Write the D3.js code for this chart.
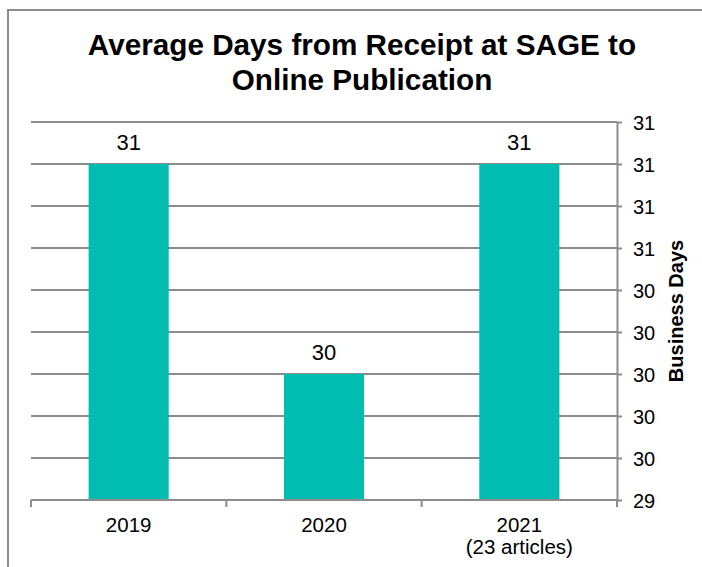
<!DOCTYPE html>
<html lang="en">
<head>
<meta charset="UTF-8">
<title>Average Days from Receipt at SAGE to Online Publication</title>
<script src="https://d3js.org/d3.v7.min.js"></script>
<style>
    body { margin: 0; background: #fff; font-family: "Liberation Sans", Arial, sans-serif; }
    .grid line { stroke: #8c8c8c; stroke-width: 2; }
    .axis path, .axis line { stroke: #8c8c8c; stroke-width: 2; }
</style>
</head>
<body>
<div id="chart"></div>
<script>
    // Data
    const years = ["2019", "2020", "2021"];
    const subLabels = ["", "", "(23 articles)"];
    const days = [31.0, 30.0, 31.0];
    const yTicks = [29.4, 29.6, 29.8, 30.0, 30.2, 30.4, 30.6, 30.8, 31.0, 31.2];

    const width = 702, height = 567;
    const plot = { left: 31, right: 617, top: 122, bottom: 500 };

    const svg = d3.select("#chart").append("svg")
        .attr("width", width)
        .attr("height", height);

    // outer frame (left and top edges visible)
    svg.append("path")
        .attr("d", `M8,${height} V10 H${width}`)
        .attr("fill", "none")
        .attr("stroke", "#8c8c8c")
        .attr("stroke-width", 2);

    // Scales
    const slot = d3.scaleBand()
        .domain(years)
        .range([plot.left, plot.right])
        .padding(0);

    const barW = slot.bandwidth() * 0.41;

    const y = d3.scaleLinear()
        .domain([29.4, 31.2])
        .range([plot.bottom, plot.top]);

    // Gridlines
    svg.append("g")
        .attr("class", "grid")
        .selectAll("line")
        .data(yTicks)
        .enter()
        .append("line")
        .attr("x1", plot.left)
        .attr("x2", plot.right)
        .attr("y1", d => y(d))
        .attr("y2", d => y(d));

    // Bars
    svg.selectAll(".bar")
        .data(days)
        .enter()
        .append("rect")
        .attr("class", "bar")
        .attr("x", (d, i) => slot(years[i]) + (slot.bandwidth() - barW) / 2)
        .attr("width", barW)
        .attr("y", d => y(d))
        .attr("height", d => plot.bottom - y(d))
        .attr("fill", "#00bcb1");

    // Value labels
    svg.selectAll(".value")
        .data(days)
        .enter()
        .append("text")
        .attr("class", "value")
        .attr("x", (d, i) => slot(years[i]) + slot.bandwidth() / 2)
        .attr("y", d => y(d) - 14)
        .attr("text-anchor", "middle")
        .style("font-size", "22px")
        .text(d3.format(".0f"));

    // Right axis
    const yAxis = svg.append("g")
        .attr("class", "axis")
        .attr("transform", `translate(${plot.right},0)`)
        .call(d3.axisRight(y).tickValues(yTicks).tickFormat(d3.format(".0f")).tickSize(5).tickSizeOuter(0));
    yAxis.selectAll("text")
        .attr("x", 16)
        .attr("dy", "0.36em")
        .style("font-size", "20px")
        .style("font-family", "'Liberation Sans', Arial, sans-serif")
        .attr("fill", "#000");

    svg.append("text")
        .attr("transform", `translate(683,${(plot.top + plot.bottom) / 2}) rotate(-90)`)
        .attr("text-anchor", "middle")
        .style("font-size", "20px")
        .style("font-weight", "bold")
        .text("Business Days");

    // Bottom axis: baseline and slot boundary ticks
    const xAxis = svg.append("g").attr("class", "axis");
    xAxis.append("line")
        .attr("x1", plot.left).attr("x2", plot.right)
        .attr("y1", plot.bottom).attr("y2", plot.bottom);
    xAxis.selectAll(".tick")
        .data(years.map(d => slot(d)).concat([plot.right]))
        .enter()
        .append("line")
        .attr("x1", d => d).attr("x2", d => d)
        .attr("y1", plot.bottom).attr("y2", plot.bottom + 7);

    const catLabels = svg.selectAll(".cat")
        .data(years)
        .enter()
        .append("text")
        .attr("class", "cat")
        .attr("x", d => slot(d) + slot.bandwidth() / 2)
        .attr("y", plot.bottom + 32)
        .attr("text-anchor", "middle")
        .style("font-size", "20.5px");
    catLabels.append("tspan").text(d => d);
    catLabels.append("tspan")
        .attr("x", d => slot(d) + slot.bandwidth() / 2)
        .attr("dy", 22)
        .text((d, i) => subLabels[i]);

    // Title
    const title = svg.append("text")
        .attr("x", 362)
        .attr("y", 55)
        .attr("text-anchor", "middle")
        .style("font-size", "29.7px")
        .style("font-weight", "bold");
    title.append("tspan").text("Average Days from Receipt at SAGE to");
    title.append("tspan").attr("x", 362).attr("dy", 35).text("Online Publication");
</script>
</body>
</html>
